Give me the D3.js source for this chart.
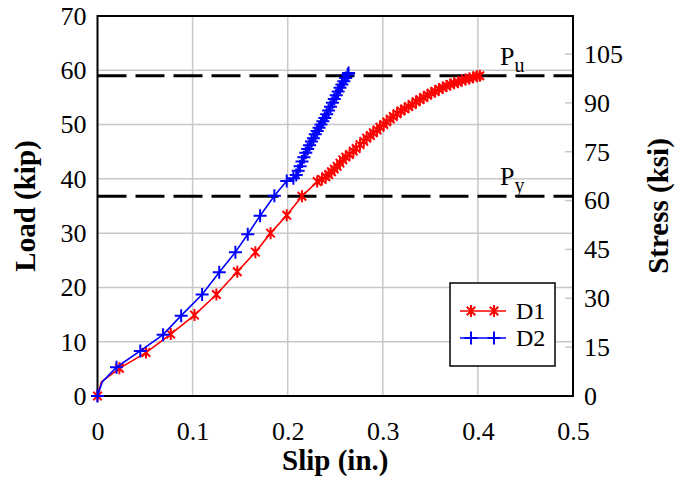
<!DOCTYPE html>
<html>
<head>
<meta charset="utf-8">
<script src="https://cdn.jsdelivr.net/npm/d3@7/dist/d3.min.js"></script>
<style>
  html, body { margin: 0; padding: 0; background: #fff; }
  svg { display: block; }
  svg text { font-family: "Liberation Serif", Tinos, "Times New Roman", Times, "DejaVu Serif", serif !important; fill: #000; }
</style>
</head>
<body>
<div id="chart"></div>
<script>
// Load–slip readings for the two specimens
const d1Slip = [0, 0.004, 0.023, 0.051, 0.077, 0.102, 0.125, 0.147, 0.166, 0.182, 0.199, 0.215, 0.231,
  0.236, 0.240, 0.243, 0.246, 0.249, 0.252, 0.255, 0.258, 0.261, 0.265, 0.269, 0.272, 0.276, 0.280,
  0.283, 0.287, 0.290, 0.294, 0.297, 0.301, 0.304, 0.308, 0.311, 0.315, 0.319, 0.323, 0.327, 0.331,
  0.335, 0.339, 0.343, 0.347, 0.351, 0.355, 0.359, 0.363, 0.367, 0.371, 0.375, 0.379, 0.383, 0.387,
  0.391, 0.395, 0.399, 0.402];
const d1Load = [0, 2.6, 5.1, 8.0, 11.4, 14.9, 18.7, 22.9, 26.5, 30.0, 33.3, 36.8, 39.5,
  39.9, 40.4, 40.8, 41.3, 41.8, 42.3, 42.9, 43.5, 44.0, 44.5, 45.1, 45.6, 46.3, 46.9,
  47.5, 48.0, 48.5, 49.0, 49.5, 50.0, 50.5, 51.0, 51.5, 52.0, 52.5, 52.9, 53.3, 53.7,
  54.2, 54.6, 55.0, 55.4, 55.8, 56.1, 56.5, 56.8, 57.1, 57.4, 57.6, 57.8, 58.1, 58.3,
  58.5, 58.7, 58.9, 59.0];

const d2Slip = [0, 0.005, 0.020, 0.045, 0.069, 0.088, 0.110, 0.128, 0.145, 0.158, 0.171, 0.186, 0.199,
  0.206, 0.209, 0.211, 0.213, 0.215, 0.217, 0.219, 0.221, 0.223, 0.225, 0.227, 0.229, 0.231, 0.233,
  0.235, 0.237, 0.239, 0.241, 0.243, 0.245, 0.247, 0.249, 0.251, 0.253, 0.255, 0.257, 0.259, 0.261,
  0.263, 0.264];
const d2Load = [0, 2.6, 5.3, 8.3, 11.3, 14.8, 18.7, 22.8, 26.5, 29.8, 33.2, 36.9, 39.6,
  40.1, 40.7, 41.5, 42.3, 43.2, 44.0, 44.8, 45.5, 46.2, 46.9, 47.5, 48.2, 48.8, 49.4,
  50.0, 50.6, 51.2, 51.9, 52.6, 53.3, 54.0, 54.7, 55.4, 56.1, 56.8, 57.4, 58.0, 58.6,
  59.2, 59.5];

// Reference loads
const loadUltimate = 59.0;
const loadYield = 36.8;

// Axis ticks
const slipTicks = [0, 0.1, 0.2, 0.3, 0.4, 0.5];
const loadTicks = [0, 10, 20, 30, 40, 50, 60, 70];
const stressTicks = [0, 15, 30, 45, 60, 75, 90, 105];
const barArea = 0.6; // in², converts load (kip) to stress (ksi)

const W = 678, H = 482;
const plot = { left: 97.5, right: 573, top: 16, bottom: 396 };
const serif = '"Liberation Serif", Tinos, "Times New Roman", Times, "DejaVu Serif", serif';

const svg = d3.select("#chart").append("svg").attr("width", W).attr("height", H)
  .attr("font-family", serif);

const x = d3.scaleLinear().domain([0, 0.5]).range([plot.left, plot.right]);
const y = d3.scaleLinear().domain([0, 70]).range([plot.bottom, plot.top]);
const yStress = d3.scaleLinear().domain([0, 70 / barArea]).range([plot.bottom, plot.top]);

const gridColor = "#c8c8c8";

// Grid
const grid = svg.append("g");
grid.selectAll("line.v").data(slipTicks.slice(1, -1)).join("line")
  .attr("x1", d => x(d)).attr("x2", d => x(d))
  .attr("y1", plot.top).attr("y2", plot.bottom)
  .attr("stroke", gridColor).attr("stroke-width", 1.5);
grid.selectAll("line.h").data(loadTicks.slice(1, -1)).join("line")
  .attr("x1", plot.left).attr("x2", plot.right)
  .attr("y1", d => y(d)).attr("y2", d => y(d))
  .attr("stroke", gridColor).attr("stroke-width", 1.5);

// Right-axis inward tick marks
svg.append("g").selectAll("line").data(stressTicks.slice(1)).join("line")
  .attr("x1", plot.right - 8).attr("x2", plot.right)
  .attr("y1", d => yStress(d)).attr("y2", d => yStress(d))
  .attr("stroke", gridColor).attr("stroke-width", 1.5);

// Reference load lines
const refs = [{ v: loadUltimate, sub: "u" }, { v: loadYield, sub: "y" }];
svg.append("g").selectAll("line").data(refs).join("line")
  .attr("x1", plot.left).attr("x2", plot.right)
  .attr("y1", d => y(d.v)).attr("y2", d => y(d.v))
  .attr("stroke", "#000").attr("stroke-width", 3)
  .attr("stroke-dasharray", "29,9");

const refLabels = svg.append("g").selectAll("text").data(refs).join("text")
  .attr("x", 500).attr("y", d => y(d.v) - 11)
  .attr("font-family", serif)
  .style("font-size", "26px");
refLabels.append("tspan").text("P");
refLabels.append("tspan").attr("dy", 7).style("font-size", "20px").text(d => d.sub);

// Frame
svg.append("rect")
  .attr("x", plot.left).attr("y", plot.top)
  .attr("width", plot.right - plot.left).attr("height", plot.bottom - plot.top)
  .attr("fill", "none").attr("stroke", "#000").attr("stroke-width", 2);

// Axes (labels only; lines come from the frame)
const tickFont = "26px";
const bottomAxis = svg.append("g")
  .attr("transform", `translate(0,${plot.bottom})`)
  .call(d3.axisBottom(x).tickValues(slipTicks).tickSize(0).tickPadding(26).tickFormat(d => d === 0 ? "0" : d3.format(".1f")(d)));
const leftAxis = svg.append("g")
  .attr("transform", `translate(${plot.left},0)`)
  .call(d3.axisLeft(y).tickValues(loadTicks).tickSize(0).tickPadding(11));
const rightAxis = svg.append("g")
  .attr("transform", `translate(${plot.right},0)`)
  .call(d3.axisRight(yStress).tickValues(stressTicks).tickSize(0).tickPadding(11));
[bottomAxis, leftAxis, rightAxis].forEach(g => {
  g.attr("font-family", serif).attr("font-size", 26);
  g.select(".domain").remove();
  g.selectAll("text").style("font-size", tickFont).attr("fill", "#000");
});

// Axis titles
const titleStyle = t => t.attr("text-anchor", "middle").attr("font-family", serif)
  .style("font-size", "29px").style("font-weight", "bold");
svg.append("text").attr("x", (plot.left + plot.right) / 2).attr("y", 470)
  .call(titleStyle).text("Slip (in.)");
svg.append("text").attr("transform", `translate(35,${(plot.top + plot.bottom) / 2}) rotate(-90)`)
  .call(titleStyle).text("Load (kip)");
svg.append("text").attr("transform", `translate(668,${(plot.top + plot.bottom) / 2}) rotate(-90)`)
  .call(titleStyle).text("Stress (ksi)");

// Marker shapes
function asterisk(s) {
  const a = s * 0.707;
  return `M0,${-s}L0,${s}M${-a},${-a}L${a},${a}M${-a},${a}L${a},${-a}`;
}
function plus(s) {
  return `M0,${-s}L0,${s}M${-s},0L${s},0`;
}

const series = [
  { name: "D1", slip: d1Slip, load: d1Load, color: "#ff0000", marker: asterisk(6) },
  { name: "D2", slip: d2Slip, load: d2Load, color: "#0000ff", marker: plus(6.5) }
];

const line = d3.line().x(d => x(d[0])).y(d => y(d[1]));

series.forEach(s => {
  const pts = s.slip.map((v, i) => [v, s.load[i]]);
  const g = svg.append("g");
  g.append("path").datum(pts).attr("d", line)
    .attr("fill", "none").attr("stroke", s.color).attr("stroke-width", 1.6);
  // the first reading after zero carries no marker
  g.selectAll("path.m").data(pts.filter((p, i) => i !== 1)).join("path")
    .attr("class", "m")
    .attr("transform", d => `translate(${x(d[0])},${y(d[1])})`)
    .attr("d", s.marker)
    .attr("fill", "none").attr("stroke", s.color).attr("stroke-width", 2);
});

// Legend
const legend = svg.append("g");
legend.append("rect").attr("x", 450).attr("y", 283).attr("width", 105).attr("height", 83)
  .attr("fill", "#fff").attr("stroke", "#000").attr("stroke-width", 1.5);
series.forEach((s, i) => {
  const ly = 311 + i * 27;
  legend.append("line").attr("x1", 460).attr("x2", 506).attr("y1", ly).attr("y2", ly)
    .attr("stroke", s.color).attr("stroke-width", 1.6);
  [471, 494].forEach(mx => legend.append("path")
    .attr("transform", `translate(${mx},${ly})`).attr("d", s.marker)
    .attr("fill", "none").attr("stroke", s.color).attr("stroke-width", 2));
  legend.append("text").attr("x", 516).attr("y", ly + 8)
    .attr("font-family", serif).style("font-size", "24px").text(s.name);
});
</script>
</body>
</html>
